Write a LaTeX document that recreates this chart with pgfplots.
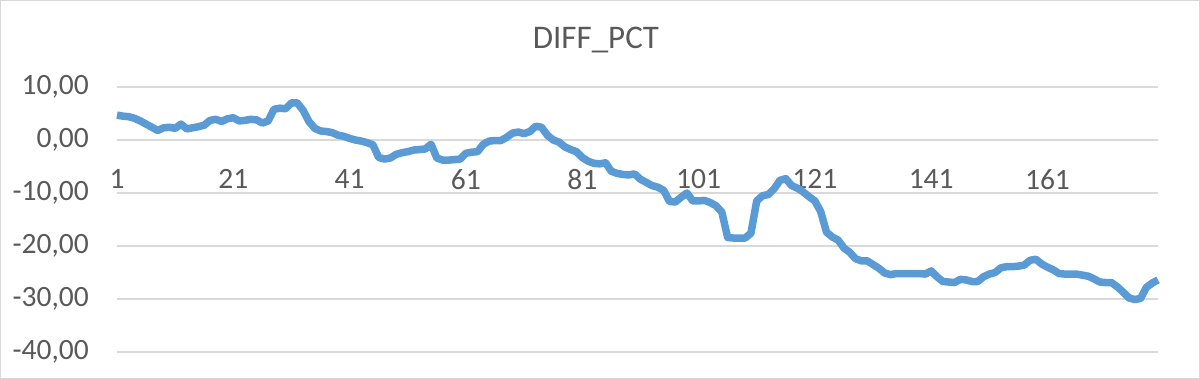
\documentclass[border=0pt]{standalone}
\usepackage{pgfplots}
\pgfplotsset{compat=1.18}
\usepackage{fontspec}
\setmainfont{Carlito}
\definecolor{linblue}{HTML}{5B9BD5}
\definecolor{gridgray}{HTML}{D9D9D9}
\definecolor{txtgray}{HTML}{595959}
\begin{document}
\begin{tikzpicture}
\useasboundingbox (0,0) rectangle (1200bp,379bp);
\draw[gridgray, line width=1bp] (0.5bp,0.5bp) rectangle (1199.5bp,378.5bp);
\node[txtgray, font=\fontsize{33bp}{38bp}\selectfont] at (596bp,339bp) {DIFF\_PCT};
\begin{axis}[
  at={(117bp,27bp)}, anchor=south west,
  scale only axis, width=1041bp, height=265bp,
  xmin=1, xmax=180, ymin=-40, ymax=10,
  axis x line=middle, axis y line=left,
  axis line style={draw=none},
  hide obscured x ticks=false,
  major tick length=0pt,
  ytick={-40,-30,-20,-10,0,10},
  yticklabels={{-40,00},{-30,00},{-20,00},{-10,00},{0,00},{10,00}},
  xtick={1,21,41,61,81,101,121,141,161},
  xticklabels={1,21,41,61,81,101,121,141,161},
  ymajorgrids, grid style={gridgray, line width=1.3bp},
  tick label style={txtgray, font=\fontsize{29.5bp}{34bp}\selectfont, inner sep=0pt},
  yticklabel style={anchor=east, xshift=-28bp},
  xticklabel style={anchor=north, yshift=-29bp},
  clip=false,
]
\addplot[linblue, line width=7.5bp, line join=round] coordinates {
(1,4.7)(2,4.5)(3,4.4)(4,4.1)(5,3.6)(6,3.0)(7,2.4)(8,1.8)(9,2.3)(10,2.4)
(11,2.2)(12,3.0)(13,2.1)(14,2.3)(15,2.5)(16,2.8)(17,3.7)(18,3.9)(19,3.5)(20,4.0)
(21,4.2)(22,3.6)(23,3.7)(24,3.9)(25,3.8)(26,3.2)(27,3.6)(28,5.8)(29,6.0)(30,5.9)
(31,7.0)(32,7.0)(33,5.6)(34,3.5)(35,2.2)(36,1.7)(37,1.6)(38,1.4)(39,0.9)(40,0.7)
(41,0.3)(42,0.0)(43,-0.2)(44,-0.5)(45,-0.9)(46,-3.3)(47,-3.6)(48,-3.4)(49,-2.7)(50,-2.4)
(51,-2.2)(52,-1.9)(53,-1.8)(54,-1.7)(55,-0.8)(56,-3.4)(57,-3.8)(58,-3.8)(59,-3.7)(60,-3.6)
(61,-2.5)(62,-2.3)(63,-2.2)(64,-0.8)(65,-0.2)(66,-0.1)(67,-0.1)(68,0.5)(69,1.3)(70,1.5)
(71,1.2)(72,1.6)(73,2.6)(74,2.4)(75,0.9)(76,0.0)(77,-0.4)(78,-1.3)(79,-1.8)(80,-2.2)
(81,-3.3)(82,-4.0)(83,-4.4)(84,-4.5)(85,-4.3)(86,-5.9)(87,-6.3)(88,-6.5)(89,-6.6)(90,-6.4)
(91,-7.4)(92,-8.0)(93,-8.6)(94,-8.9)(95,-9.5)(96,-11.6)(97,-11.7)(98,-10.8)(99,-10.0)(100,-11.5)
(101,-11.5)(102,-11.4)(103,-11.8)(104,-12.4)(105,-13.6)(106,-18.4)(107,-18.5)(108,-18.5)(109,-18.5)(110,-17.6)
(111,-11.5)(112,-10.5)(113,-10.3)(114,-9.2)(115,-7.6)(116,-7.3)(117,-8.6)(118,-9.1)(119,-9.8)(120,-10.7)
(121,-11.5)(122,-13.5)(123,-17.4)(124,-18.3)(125,-18.9)(126,-20.4)(127,-21.2)(128,-22.4)(129,-22.8)(130,-22.8)
(131,-23.5)(132,-24.2)(133,-25.1)(134,-25.4)(135,-25.2)(136,-25.2)(137,-25.2)(138,-25.2)(139,-25.2)(140,-25.3)
(141,-24.7)(142,-25.8)(143,-26.7)(144,-26.8)(145,-26.9)(146,-26.3)(147,-26.4)(148,-26.7)(149,-26.7)(150,-25.8)
(151,-25.3)(152,-25.0)(153,-24.1)(154,-23.9)(155,-23.9)(156,-23.8)(157,-23.6)(158,-22.7)(159,-22.5)(160,-23.4)
(161,-24.0)(162,-24.5)(163,-25.2)(164,-25.3)(165,-25.3)(166,-25.3)(167,-25.5)(168,-25.7)(169,-26.2)(170,-26.8)
(171,-26.9)(172,-26.9)(173,-27.7)(174,-28.7)(175,-29.8)(176,-30.1)(177,-29.9)(178,-27.8)(179,-27.0)(180,-26.4)
};
\end{axis}
\end{tikzpicture}
\end{document}
